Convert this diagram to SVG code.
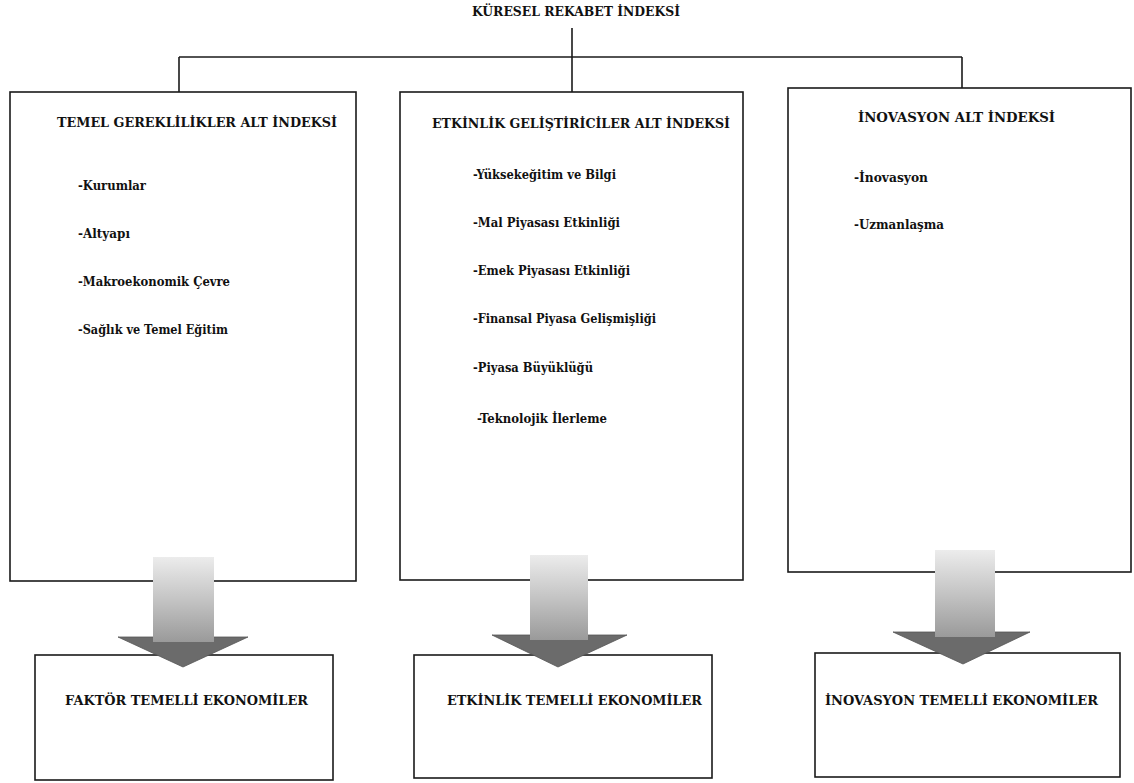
<svg xmlns="http://www.w3.org/2000/svg" width="1134" height="783" viewBox="0 0 1134 783">
  <style>
    .box { fill: #fff; stroke: #1a1a1a; stroke-width: 1.6; }
    .line { fill: none; stroke: #1a1a1a; stroke-width: 1.6; }
    .t { font-family: 'DejaVu Serif', 'Liberation Serif', serif; font-weight: 700; font-size: 13px; fill: #111; }
    .head { fill: #6b6b6b; stroke: #555; stroke-width: 0.8; }
    .shaft { fill: url(#shaftGrad); }
  </style>
  <defs>
    <linearGradient id="shaftGrad" x1="0" y1="0" x2="0" y2="1">
      <stop offset="0" stop-color="#ececec"/>
      <stop offset="0.5" stop-color="#c4c4c4"/>
      <stop offset="1" stop-color="#9a9a9a"/>
    </linearGradient>
  </defs>
  <rect width="1134" height="783" fill="#fff"/>

  <!-- tree connectors -->
  <g id="connectors">
    <line class="line" x1="572" y1="28" x2="572" y2="92"/>
    <line class="line" x1="179" y1="57" x2="962" y2="57"/>
    <line class="line" x1="179" y1="57" x2="179" y2="92"/>
    <line class="line" x1="962" y1="57" x2="962" y2="88"/>
  </g>

  <g id="root">
    <text class="t" x="472" y="16" textLength="208" lengthAdjust="spacingAndGlyphs">KÜRESEL REKABET İNDEKSİ</text>
  </g>

  <!-- sub-index panels -->
  <g id="temel">
    <rect class="box" x="10" y="92" width="346" height="489"/>
    <text class="t" x="57" y="127" textLength="280" lengthAdjust="spacingAndGlyphs">TEMEL GEREKLİLİKLER ALT İNDEKSİ</text>
    <text class="t" x="78" y="190" textLength="68" lengthAdjust="spacingAndGlyphs">-Kurumlar</text>
    <text class="t" x="78" y="238" textLength="52" lengthAdjust="spacingAndGlyphs">-Altyapı</text>
    <text class="t" x="78" y="286" textLength="152" lengthAdjust="spacingAndGlyphs">-Makroekonomik Çevre</text>
    <text class="t" x="78" y="334" textLength="150" lengthAdjust="spacingAndGlyphs">-Sağlık ve Temel Eğitim</text>
  </g>

  <g id="etkinlik">
    <rect class="box" x="400" y="92" width="343" height="488"/>
    <text class="t" x="432" y="128" textLength="298" lengthAdjust="spacingAndGlyphs">ETKİNLİK GELİŞTİRİCİLER ALT İNDEKSİ</text>
    <text class="t" x="473" y="179" textLength="143" lengthAdjust="spacingAndGlyphs">-Yüksekeğitim ve Bilgi</text>
    <text class="t" x="473" y="227" textLength="147" lengthAdjust="spacingAndGlyphs">-Mal Piyasası Etkinliği</text>
    <text class="t" x="473" y="275" textLength="157" lengthAdjust="spacingAndGlyphs">-Emek Piyasası Etkinliği</text>
    <text class="t" x="473" y="323" textLength="183" lengthAdjust="spacingAndGlyphs">-Finansal Piyasa Gelişmişliği</text>
    <text class="t" x="473" y="372" textLength="120" lengthAdjust="spacingAndGlyphs">-Piyasa Büyüklüğü</text>
    <text class="t" x="477" y="423" textLength="130" lengthAdjust="spacingAndGlyphs">-Teknolojik İlerleme</text>
  </g>

  <g id="inovasyon">
    <rect class="box" x="788" y="88" width="343" height="484"/>
    <text class="t" x="858" y="122" textLength="197" lengthAdjust="spacingAndGlyphs">İNOVASYON ALT İNDEKSİ</text>
    <text class="t" x="854" y="182" textLength="74" lengthAdjust="spacingAndGlyphs">-İnovasyon</text>
    <text class="t" x="854" y="229" textLength="90" lengthAdjust="spacingAndGlyphs">-Uzmanlaşma</text>
  </g>

  <!-- economy stage boxes -->
  <g id="faktor">
    <rect class="box" x="35" y="655" width="298" height="125"/>
    <text class="t" x="65" y="705" textLength="243" lengthAdjust="spacingAndGlyphs">FAKTÖR TEMELLİ EKONOMİLER</text>
  </g>

  <g id="etkinlikEk">
    <rect class="box" x="414" y="655" width="298" height="123"/>
    <text class="t" x="447" y="705" textLength="255" lengthAdjust="spacingAndGlyphs">ETKİNLİK TEMELLİ EKONOMİLER</text>
  </g>

  <g id="inovasyonEk">
    <rect class="box" x="815" y="653" width="305" height="124"/>
    <text class="t" x="825" y="705" textLength="273" lengthAdjust="spacingAndGlyphs">İNOVASYON TEMELLİ EKONOMİLER</text>
  </g>

  <!-- block arrows -->
  <g id="arrows">
    <polygon class="head" points="118,637 248,637 183,667"/>
    <rect class="shaft" x="153" y="557" width="61" height="85"/>

    <polygon class="head" points="492,635 627,635 558,667"/>
    <rect class="shaft" x="530" y="555" width="58" height="85"/>

    <polygon class="head" points="893,632 1030,632 963,664"/>
    <rect class="shaft" x="935" y="550" width="60" height="87"/>
  </g>
</svg>
